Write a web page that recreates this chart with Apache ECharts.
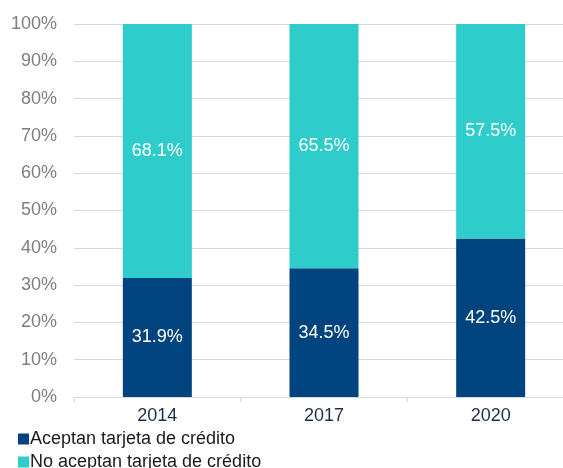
<!DOCTYPE html>
<html><head><meta charset="utf-8">
<script src="https://cdn.jsdelivr.net/npm/echarts@6/dist/echarts.min.js"></script>
<style>html,body{margin:0;padding:0;background:#fff;overflow:hidden}#c{width:574px;height:468px}</style>
</head><body><div id="c"></div>
<script>
const categories = ['2014', '2017', '2020'];
const aceptan = [31.9, 34.5, 42.5];
const noAceptan = [68.1, 65.5, 57.5];
const seriesNames = ['Aceptan tarjeta de crédito', 'No aceptan tarjeta de crédito'];
const yTicks = [0, 10, 20, 30, 40, 50, 60, 70, 80, 90, 100];

const chart = echarts.init(document.getElementById('c'), null, {renderer: 'canvas'});
const lbl = {show: true, color: '#ffffff', fontSize: 18, fontFamily: 'Liberation Sans, Arial', formatter: p => p.value.toFixed(1) + '%'};
chart.setOption({
  animation: false,
  textStyle: {fontFamily: 'Liberation Sans, Arial'},
  grid: {left: 74, right: 0, top: 24, bottom: 71, containLabel: false},
  legend: {
    orient: 'vertical', left: 13, top: 425, height: 60, itemWidth: 11, itemHeight: 11, itemGap: 5,
    icon: 'rect', textStyle: {fontSize: 18, color: '#1a1a1a', padding: [0,0,0,-4]},
    data: seriesNames
  },
  xAxis: {
    type: 'category', data: categories,
    axisLine: {lineStyle: {color: '#d9d9d9', width: 1}},
    axisTick: {show: true, length: 5, lineStyle: {color: '#d9d9d9'}},
    axisLabel: {fontSize: 18, color: '#1f2d4a', margin: 10}
  },
  yAxis: {
    type: 'value', min: yTicks[0], max: yTicks[yTicks.length-1], interval: 10,
    axisLine: {show: false}, axisTick: {show: false},
    axisLabel: {fontSize: 18, color: '#7f7f7f', margin: 17, formatter: v => v + '%'},
    splitLine: {lineStyle: {color: '#d9d9d9', width: 1}}
  },
  series: [
    {name: seriesNames[0], type: 'bar', stack: 's', data: aceptan, barWidth: 69,
     itemStyle: {color: '#00447f'}, label: lbl},
    {name: seriesNames[1], type: 'bar', stack: 's', data: noAceptan, barWidth: 69,
     itemStyle: {color: '#2ecdcc'}, label: lbl}
  ]
});
</script></body></html>
